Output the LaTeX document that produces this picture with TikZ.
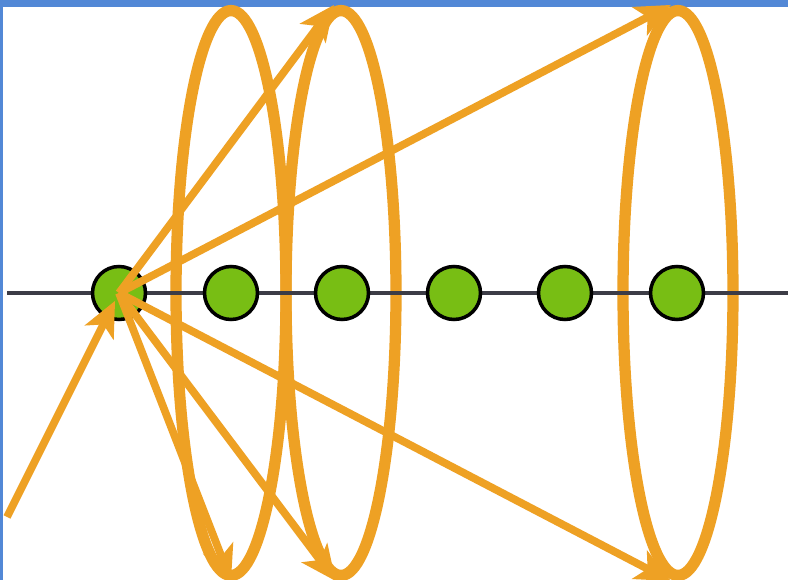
\documentclass[tikz,border=0pt]{standalone}
\usepackage{tikz}
\usepackage{xcolor}
\usetikzlibrary{shapes.geometric, arrows.meta}

\definecolor{naranja}{RGB}{238,161,36}
\definecolor{verde}{RGB}{120,190,20}
\definecolor{azulmarco}{RGB}{82,136,214}
\definecolor{gris}{RGB}{60,60,70}

\begin{document}
\begin{tikzpicture}[
        x=0.02cm, y=-0.02cm,
        % Estilo para los anillos (elipses)
        anillo/.style={
            ellipse,
            draw=naranja,
            line width=6.4pt,
            minimum width=2.2cm,
            minimum height=11.3cm,
            inner sep=0pt
        },
        % Estilo para los puntos sobre el eje
        punto/.style={
            circle,
            draw=black,
            line width=2pt,
            fill=verde,
            minimum size=1.06cm,
            inner sep=0pt
        },
        % Estilo para las flechas
        flecha/.style={
            draw=naranja,
            line width=4.4pt,
            -{Stealth[length=20pt, width=18pt, inset=5pt]}
        },
        % Estilo para el eje
        eje/.style={
            draw=gris,
            line width=2.4pt
        }
    ]

        % Marco y fondo
        \fill[white] (0,0) rectangle (788,580);
        \fill[azulmarco] (0,0) rectangle (788,7);
        \fill[azulmarco] (0,0) rectangle (3,580);
        \useasboundingbox (0,0) rectangle (788,580);

        % Anillos
        \node[anillo] (e1) at (231,293) {};
        \node[anillo] (e2) at (341,293) {};
        \node[anillo] (e3) at (678,293) {};

        % Eje horizontal
        \coordinate (izq) at (7,293);
        \coordinate (der) at (788,293);
        \draw[eje] (izq) -- (der);

        % Puntos alineados
        \foreach \i/\x in {1/119, 2/231, 3/342, 4/454, 5/565, 6/677}
            \node[punto] (c\i) at (\x,293) {};

        % --- FLECHAS ---
        \coordinate (origen) at (7,517);
        \draw[flecha, shorten >=5pt] (origen) -- (c1.center);

        \draw[flecha] (c1.center) -- ([xshift=-4pt]e2.north);
        \draw[flecha] (c1.center) -- ([xshift=-4pt]e3.north);
        \draw[flecha] (c1.center) -- (e1.south);
        \draw[flecha] (c1.center) -- ([xshift=-3pt]e2.south);
        \draw[flecha] (c1.center) -- ([xshift=-4pt]e3.south);

    \end{tikzpicture}
\end{document}
